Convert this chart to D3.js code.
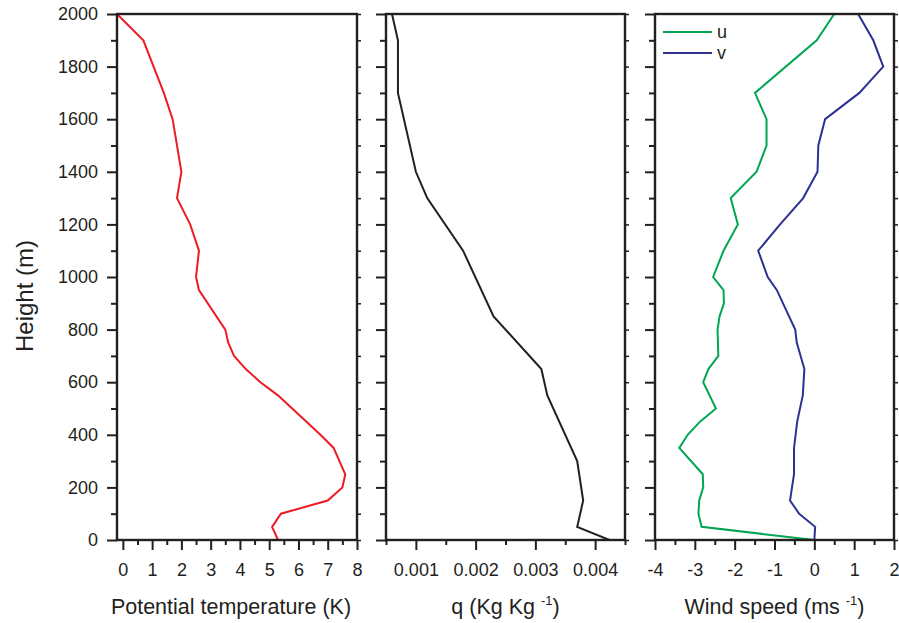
<!DOCTYPE html>
<html>
<head>
<meta charset="utf-8">
<script src="https://cdn.jsdelivr.net/npm/d3@7"></script>
<style>
  body { margin: 0; background: #fff; }
  svg { display: block; font-family: "Liberation Sans", Arial, sans-serif; }
  .axis path, .axis line { stroke: #231f20; }
  .axis text { fill: #231f20; }
</style>
</head>
<body>
<svg id="chart" width="899" height="623"></svg>
<script>
// heights (m) and values read from the profiles
var thetaH = [0, 50, 100, 150, 200, 250, 350, 400, 550, 600, 650, 700, 750, 800, 950, 1000, 1100, 1200, 1300, 1400, 1600, 1700, 1900, 2000];
var thetaV = [5.3, 5.1, 5.4, 7.0, 7.5, 7.6, 7.2, 6.75, 5.3, 4.7, 4.2, 3.8, 3.6, 3.5, 2.6, 2.5, 2.6, 2.3, 1.85, 2.0, 1.7, 1.4, 0.7, -0.2];

var qH = [0, 50, 150, 300, 550, 650, 850, 1100, 1300, 1400, 1700, 1900, 2000];
var qV = [0.00424, 0.0037, 0.0038, 0.0037, 0.0032, 0.0031, 0.0023, 0.00179, 0.00119, 0.001, 0.0007, 0.0007, 0.0006];

var uH = [0, 50, 100, 150, 200, 250, 350, 400, 450, 500, 600, 650, 700, 800, 850, 900, 950, 1000, 1100, 1200, 1300, 1400, 1500, 1600, 1700, 1900, 2000];
var uV = [0, -2.83, -2.91, -2.89, -2.79, -2.8, -3.39, -3.18, -2.87, -2.47, -2.79, -2.66, -2.41, -2.43, -2.38, -2.27, -2.28, -2.54, -2.28, -1.92, -2.1, -1.45, -1.2, -1.2, -1.49, 0.06, 0.5];

var vH = [0, 50, 100, 150, 250, 350, 450, 550, 650, 750, 800, 950, 1000, 1100, 1200, 1300, 1400, 1500, 1600, 1700, 1800, 1900, 2000];
var vV = [0, 0.02, -0.38, -0.61, -0.51, -0.51, -0.43, -0.29, -0.25, -0.44, -0.48, -0.94, -1.17, -1.41, -0.86, -0.28, 0.08, 0.1, 0.27, 1.13, 1.73, 1.48, 1.1];

var heightTicks = [0, 200, 400, 600, 800, 1000, 1200, 1400, 1600, 1800, 2000];
var heightMinor = [100, 300, 500, 700, 900, 1100, 1300, 1500, 1700, 1900];

var thetaTicks = [0, 1, 2, 3, 4, 5, 6, 7, 8];
var thetaMinor = [0.5, 1.5, 2.5, 3.5, 4.5, 5.5, 6.5, 7.5];
var qTicks = [0.001, 0.002, 0.003, 0.004];
var qMinor = [0.0005, 0.0015, 0.0025, 0.0035, 0.0045];
var windTicks = [-4, -3, -2, -1, 0, 1, 2];
var windMinor = [-3.5, -2.5, -1.5, -0.5, 0.5, 1.5];

var svg = d3.select("#chart");
var plotTop = 14, plotBottom = 540;

var y = d3.scaleLinear().domain([0, 2000]).range([plotBottom, plotTop]);

// hyphen instead of unicode minus, like the original
function plain(f) {
    return function(d){ return f(d).replace("\u2212", "-"); };
}

var panels = [
    {x0: 117, x1: 357, domain: [-0.2, 8], ticks: thetaTicks, minor: thetaMinor, fmt: plain(d3.format("d")),
     title: "Potential temperature (K)", sup: null,
     series: [{h: thetaH, v: thetaV, color: "#ed1c24"}]},
    {x0: 386, x1: 625, domain: [0.0005, 0.0045], ticks: qTicks, minor: qMinor, fmt: plain(d3.format(".3f")),
     title: "q (Kg Kg ", sup: "-1",
     series: [{h: qH, v: qV, color: "#231f20"}]},
    {x0: 655, x1: 894, domain: [-4, 2], ticks: windTicks, minor: windMinor, fmt: plain(d3.format("d")),
     title: "Wind speed (ms ", sup: "-1",
     series: [{h: uH, v: uV, color: "#00a651", name: "u"}, {h: vH, v: vV, color: "#2e3192", name: "v"}]}
];

function thick(w) {
    return function(s){ s.select(".domain").remove(); s.selectAll("line").attr("stroke-width", w); };
}

panels.forEach(function(p, pi) {
    var x = d3.scaleLinear().domain(p.domain).range([p.x0, p.x1]);
    var g = svg.append("g");

    // left axis (labels only on the first panel)
    g.append("g").attr("class", "axis").attr("transform", "translate(" + p.x0 + ",0)")
        .call(d3.axisLeft(y).tickValues(heightTicks).tickSize(10).tickPadding(9)
            .tickFormat(pi === 0 ? d3.format("d") : ""))
        .style("font-size", "18px")
        .call(thick(2));
    g.append("g").attr("class", "axis").attr("transform", "translate(" + p.x0 + ",0)")
        .call(d3.axisLeft(y).tickValues(heightMinor).tickSize(6).tickFormat(""))
        .call(thick(2));

    // right side small ticks
    g.append("g").attr("class", "axis").attr("transform", "translate(" + p.x1 + ",0)")
        .call(d3.axisRight(y).tickValues(heightTicks.concat(heightMinor)).tickSize(4).tickFormat(""))
        .call(thick(1.5));

    // bottom axis
    g.append("g").attr("class", "axis").attr("transform", "translate(0," + plotBottom + ")")
        .call(d3.axisBottom(x).tickValues(p.ticks).tickSize(10).tickPadding(13).tickFormat(p.fmt))
        .style("font-size", "18px")
        .call(thick(2));
    g.append("g").attr("class", "axis").attr("transform", "translate(0," + plotBottom + ")")
        .call(d3.axisBottom(x).tickValues(p.minor).tickSize(5).tickFormat(""))
        .call(thick(2));

    // data lines
    var clipId = "clip" + pi;
    svg.append("clipPath").attr("id", clipId).append("rect")
        .attr("x", p.x0).attr("y", plotTop).attr("width", p.x1 - p.x0).attr("height", plotBottom - plotTop);

    var line = d3.line()
        .x(function(d){ return x(d[1]); })
        .y(function(d){ return y(d[0]); });

    p.series.forEach(function(s) {
        g.append("path")
            .datum(d3.zip(s.h, s.v))
            .attr("d", line)
            .attr("clip-path", "url(#" + clipId + ")")
            .attr("fill", "none")
            .attr("stroke", s.color)
            .attr("stroke-width", 2);
    });

    // frame
    g.append("rect")
        .attr("x", p.x0).attr("y", plotTop)
        .attr("width", p.x1 - p.x0).attr("height", plotBottom - plotTop)
        .attr("fill", "none").attr("stroke", "#231f20").attr("stroke-width", 2.4);

    // x title
    var t = svg.append("text")
        .attr("x", (p.x0 + p.x1) / 2 - (pi === 0 ? 6 : 0)).attr("y", 614)
        .attr("text-anchor", "middle")
        .style("font-size", "21.5px").attr("fill", "#231f20")
        .text(p.title);
    if (p.sup) {
        t.append("tspan").attr("dy", -9).style("font-size", "13px").text(p.sup);
        t.append("tspan").attr("dy", 9).text(")");
    }

    // legend
    if (p.series.length > 1) {
        p.series.forEach(function(s, i) {
            var ly = 32 + i * 21;
            svg.append("line")
                .attr("x1", p.x0 + 8).attr("x2", p.x0 + 57)
                .attr("y1", ly).attr("y2", ly)
                .attr("stroke", s.color).attr("stroke-width", 2);
            svg.append("text")
                .attr("x", p.x0 + 62).attr("y", ly + 6)
                .style("font-size", "18px").attr("fill", "#231f20")
                .text(s.name);
        });
    }
});

// y title
svg.append("text")
    .attr("transform", "translate(33,296) rotate(-90)")
    .attr("text-anchor", "middle")
    .style("font-size", "24px").attr("fill", "#231f20")
    .text("Height (m)");
</script>
</body>
</html>
